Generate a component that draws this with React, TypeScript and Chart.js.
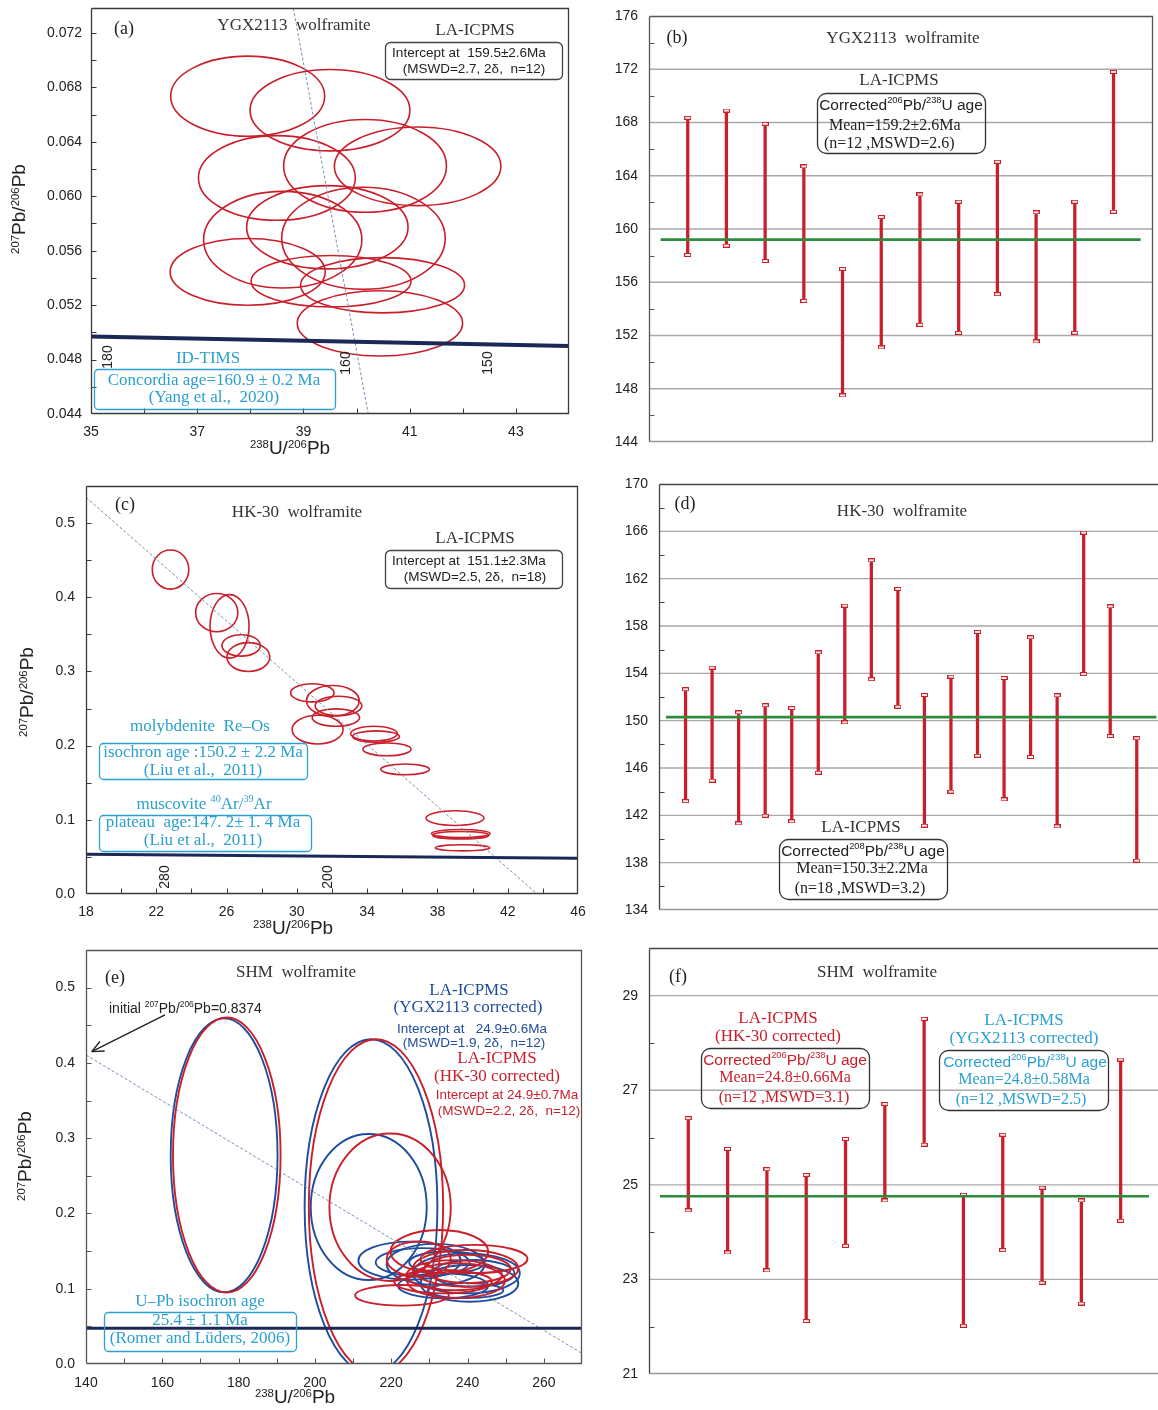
import React, { useEffect, useRef } from 'react';
import { Chart, registerables } from 'chart.js';

Chart.register(...registerables);

const SANS = "'Liberation Sans', Arial, Helvetica, sans-serif";
const SERIF = "'Liberation Serif', 'Times New Roman', Times, serif";
const RED = '#c81f2b';
const BLUE = '#1f4c9c';
const NAVY = '#1b2856';
const CYAN = '#2b9fd0';
const GREEN = '#2e8b3d';
const INK = '#222222';
const TITLE = '#333333';
const FRAME = '#3a3a3a';
const GRID = '#a9a9a9';
const DISC = '#7c8db5';

// ================= DATA =================
// ---- (a) YGX2113 wolframite, Tera-Wasserburg ----
const A_X_TICKS = [35, 37, 39, 41, 43];
const A_X_MARKS = [36, 37, 38, 39, 40, 41, 42, 43];
const A_Y_TICKS = [0.044, 0.048, 0.052, 0.056, 0.06, 0.064, 0.068, 0.072];
const A_Y_MARKS = [0.046, 0.048, 0.05, 0.052, 0.054, 0.056, 0.058, 0.06, 0.062, 0.064, 0.066, 0.068, 0.07, 0.072];
// [238U/206Pb centre, 207Pb/206Pb centre, half-width, half-height]
const A_ELLIPSES = [
  [37.95, 0.06735, 1.45, 0.00294],
  [39.5, 0.06632, 1.505, 0.00299],
  [38.5, 0.06134, 1.477, 0.00311],
  [40.16, 0.06223, 1.533, 0.00341],
  [41.15, 0.0622, 1.568, 0.00289],
  [38.61, 0.05681, 1.49, 0.00355],
  [39.45, 0.05772, 1.52, 0.00306],
  [40.13, 0.05691, 1.54, 0.00375],
  [37.95, 0.05444, 1.46, 0.00245],
  [39.52, 0.05375, 1.505, 0.00189],
  [40.49, 0.05346, 1.544, 0.00203],
  [40.44, 0.05066, 1.557, 0.0024],
];
const A_CONCORDIA = [[35, 0.0497], [44, 0.049]];
const A_DISCORDIA = [[38.81, 0.0738], [40.22, 0.044]];

// ---- (b) YGX2113 corrected 206Pb/238U ages ----
const B_HIGH = [168.35, 168.9, 167.9, 164.7, 157.0, 160.9, 162.6, 162.05, 165.05, 161.25, 162.05, 171.8];
const B_LOW = [158.05, 158.75, 157.6, 154.6, 147.5, 151.1, 152.8, 152.2, 155.1, 151.55, 152.2, 161.3];
const B_MEAN = 159.2;
const B_MEAN_SPAN = [0.3, 12.7];
const B_Y_TICKS = [144, 148, 152, 156, 160, 164, 168, 172, 176];
const B_GRID = [148, 152, 156, 160, 164, 168, 172];
const B_MINOR = [146, 150, 154, 158, 162, 166, 170, 174];

// ---- (c) HK-30 wolframite ----
const C_X_TICKS = [18, 22, 26, 30, 34, 38, 42, 46];
const C_X_MARKS = [20, 22, 24, 26, 28, 30, 32, 34, 36, 38, 40, 42, 44];
const C_Y_TICKS = [0, 0.1, 0.2, 0.3, 0.4, 0.5];
const C_Y_MARKS = [0.05, 0.1, 0.15, 0.2, 0.25, 0.3, 0.35, 0.4, 0.45, 0.5];
const C_ELLIPSES = [
  [22.81, 0.4374, 1.04, 0.0264],
  [25.44, 0.3793, 1.2, 0.0257],
  [26.17, 0.3608, 1.11, 0.0428],
  [26.83, 0.3351, 1.09, 0.0144],
  [27.24, 0.3194, 1.22, 0.0194],
  [30.88, 0.2712, 1.24, 0.0122],
  [32.05, 0.2604, 1.5, 0.0207],
  [32.37, 0.2536, 1.33, 0.013],
  [32.22, 0.2378, 1.35, 0.0117],
  [31.18, 0.2216, 1.45, 0.0194],
  [34.39, 0.2162, 1.33, 0.0099],
  [34.51, 0.2122, 1.33, 0.0077],
  [35.13, 0.195, 1.37, 0.0086],
  [36.16, 0.168, 1.39, 0.0072],
  [39.0, 0.1023, 1.65, 0.0099],
  [39.33, 0.0815, 1.67, 0.0054],
  [39.33, 0.0793, 1.6, 0.005],
  [39.43, 0.0622, 1.55, 0.0041],
];
const C_CONCORDIA = [[18, 0.0536], [46, 0.0482]];
const C_DISCORDIA = [[18, 0.5347], [43.67, 0]];

// ---- (d) HK-30 corrected 208Pb/238U ages ----
const D_HIGH = [152.65, 154.48, 150.7, 151.3, 151.07, 155.77, 159.72, 163.55, 161.13, 152.17, 153.72, 157.5, 153.61, 157.04, 152.14, 165.89, 159.66, 148.51];
const D_LOW = [143.2, 144.93, 141.32, 141.97, 141.49, 145.6, 149.86, 153.5, 151.18, 141.13, 144.0, 147.04, 143.35, 146.93, 141.07, 153.94, 148.7, 138.17];
const D_MEAN = 150.3;
const D_MEAN_SPAN = [0.26, 18.74];
const D_Y_TICKS = [134, 138, 142, 146, 150, 154, 158, 162, 166, 170];
const D_GRID = [138, 142, 146, 150, 154, 158, 162, 166];
const D_MINOR = [136, 140, 144, 148, 152, 156, 160, 164, 168];

// ---- (e) SHM wolframite ----
const E_X_TICKS = [140, 160, 180, 200, 220, 240, 260];
const E_X_MARKS = [150, 160, 170, 180, 190, 200, 210, 220, 230, 240, 250, 260];
const E_Y_TICKS = [0, 0.1, 0.2, 0.3, 0.4, 0.5];
const E_Y_MARKS = [0.05, 0.1, 0.15, 0.2, 0.25, 0.3, 0.35, 0.4, 0.45, 0.5];
const E_BLUE = [
  [176.2, 0.2772, 14.0, 0.182],
  [214.7, 0.2095, 17.4, 0.222],
  [214.1, 0.2086, 15.2, 0.097],
  [224.8, 0.1373, 13.4, 0.0253],
  [231.6, 0.1324, 12.8, 0.0272],
  [239.7, 0.1204, 14.0, 0.0266],
  [240.5, 0.1071, 12.8, 0.0244],
  [233.6, 0.104, 11.8, 0.0166],
  [241.5, 0.1204, 10.8, 0.0177],
  [239.5, 0.0975, 9.9, 0.01],
  [234.6, 0.135, 9.9, 0.0144],
  [228.2, 0.1351, 12.3, 0.0188],
];
const E_RED = [
  [176.9, 0.2776, 14.1, 0.1827],
  [216.0, 0.2095, 17.6, 0.222],
  [219.7, 0.2082, 15.9, 0.098],
  [232.6, 0.1493, 12.8, 0.0288],
  [222.8, 0.0912, 12.3, 0.0137],
  [241.7, 0.1395, 14.0, 0.0188],
  [237.0, 0.1106, 12.8, 0.0233],
  [233.6, 0.1093, 12.8, 0.0155],
  [240.0, 0.1262, 11.3, 0.0188],
  [227.2, 0.1395, 8.4, 0.0233],
  [239.5, 0.127, 13.8, 0.0244],
  [236.5, 0.118, 12.5, 0.02],
];
const E_CONCORDIA = [[140, 0.0475], [270, 0.0474]];
const E_DISCORDIA = [[140, 0.4105], [270, 0.0142]];
const E_ARROW = [[160.7, 0.4637], [141.5, 0.415]];

// ---- (f) SHM corrected 206Pb/238U ages ----
const F_HIGH = [26.41, 25.76, 25.33, 25.21, 25.97, 26.71, 28.51, 24.79, 26.06, 24.94, 24.67, 27.65];
const F_LOW = [24.46, 23.57, 23.19, 22.12, 23.71, 24.67, 25.85, 22.02, 23.62, 22.93, 22.49, 24.24];
const F_MEAN = 24.76;
const F_MEAN_SPAN = [0.28, 12.72];
const F_Y_TICKS = [21, 23, 25, 27, 29];
const F_GRID = [23, 25, 27, 29];
const F_MINOR = [22, 24, 26, 28];

// ================= DRAWING HELPERS =================
function drawRich(ctx, str, x, y, size, fam, color, align, rot, weight, supK) {
  const parts = [];
  const re = /\^\{([^}]*)\}/g;
  let last = 0;
  let m;
  while ((m = re.exec(str))) {
    if (m.index > last) parts.push({ t: str.slice(last, m.index), sup: false, w: 0 });
    parts.push({ t: m[1], sup: true, w: 0 });
    last = re.lastIndex;
  }
  if (last < str.length) parts.push({ t: str.slice(last), sup: false, w: 0 });
  const supSize = size * 0.6;
  const wt = weight || 'normal';
  let total = 0;
  for (const p of parts) {
    ctx.font = `${wt} ${p.sup ? supSize : size}px ${fam}`;
    p.w = ctx.measureText(p.t).width;
    total += p.w;
  }
  ctx.save();
  ctx.translate(x, y);
  if (rot) ctx.rotate((rot * Math.PI) / 180);
  let cx = align === 'left' ? 0 : align === 'right' ? -total : -total / 2;
  ctx.fillStyle = color;
  ctx.textAlign = 'left';
  ctx.textBaseline = 'middle';
  for (const p of parts) {
    ctx.font = `${wt} ${p.sup ? supSize : size}px ${fam}`;
    ctx.fillText(p.t, cx, p.sup ? -size * supK : 0);
    cx += p.w;
  }
  ctx.restore();
}

function makeDecor(d) {
  return {
    id: 'decor',
    beforeDatasetsDraw(chart) {
      const { ctx, chartArea: ca } = chart;
      const xs = chart.scales.x;
      const ys = chart.scales.y;
      if (d.hgrid) {
        ctx.save();
        ctx.strokeStyle = GRID;
        ctx.lineWidth = 1.3;
        for (const v of d.hgrid) {
          const py = ys.getPixelForValue(v);
          ctx.beginPath();
          ctx.moveTo(ca.left, py);
          ctx.lineTo(ca.right, py);
          ctx.stroke();
        }
        ctx.restore();
      }
      if (d.ellipses) {
        ctx.save();
        ctx.beginPath();
        ctx.rect(ca.left, ca.top, ca.right - ca.left, ca.bottom - ca.top);
        ctx.clip();
        for (const g of d.ellipses) {
          ctx.strokeStyle = g.color;
          ctx.lineWidth = g.width;
          for (const [cx, cy, rx, ry] of g.data) {
            const px = xs.getPixelForValue(cx);
            const py = ys.getPixelForValue(cy);
            const prx = Math.abs(xs.getPixelForValue(cx + rx) - px);
            const pry = Math.abs(ys.getPixelForValue(cy + ry) - py);
            ctx.beginPath();
            ctx.ellipse(px, py, prx, pry, 0, 0, Math.PI * 2);
            ctx.stroke();
          }
        }
        ctx.restore();
      }
    },
    afterDatasetsDraw(chart) {
      const { ctx, chartArea: ca } = chart;
      const xs = chart.scales.x;
      const ys = chart.scales.y;
      const f = d.frame;
      ctx.save();
      ctx.lineWidth = f.width || 1.3;
      const L = Math.round(ca.left) + 0.5;
      const T = Math.round(ca.top) + 0.5;
      const R = Math.round(ca.right) - 0.5;
      const B = Math.round(ca.bottom) - 0.5;
      const seg = (x1, y1, x2, y2, col) => {
        ctx.strokeStyle = col;
        ctx.beginPath();
        ctx.moveTo(x1, y1);
        ctx.lineTo(x2, y2);
        ctx.stroke();
      };
      if (f.top) seg(L, T, ca.right, T, f.color);
      if (f.bottom) seg(L, B, ca.right, B, f.bottomColor || f.color);
      if (f.right) seg(R, T, R, B, f.color);
      if (f.left) seg(L, T, L, B, f.color);
      // inward tick marks
      const len = d.markLen || 5;
      ctx.lineWidth = 1;
      if (d.xMarks) {
        for (const v of d.xMarks) {
          const px = Math.round(xs.getPixelForValue(v)) + 0.5;
          seg(px, B, px, B - len, f.color);
        }
      }
      if (d.yMarks) {
        for (const v of d.yMarks) {
          const py = Math.round(ys.getPixelForValue(v)) + 0.5;
          seg(L, py, L + len, py, f.color);
        }
      }
      // arrows (data coordinates)
      if (d.arrows) {
        for (const a of d.arrows) {
          const x1 = xs.getPixelForValue(a.pts[0][0]);
          const y1 = ys.getPixelForValue(a.pts[0][1]);
          const x2 = xs.getPixelForValue(a.pts[1][0]);
          const y2 = ys.getPixelForValue(a.pts[1][1]);
          ctx.lineWidth = 1.4;
          seg(x1, y1, x2, y2, a.color);
          const ang = Math.atan2(y1 - y2, x1 - x2);
          const hl = 13;
          for (const s of [-0.42, 0.42]) {
            seg(x2, y2, x2 + hl * Math.cos(ang + s), y2 + hl * Math.sin(ang + s), a.color);
          }
        }
      }
      // boxes (page coordinates)
      for (const b of d.boxes || []) {
        ctx.strokeStyle = b.color;
        ctx.lineWidth = 1.3;
        ctx.beginPath();
        ctx.roundRect(b.x1 - d.ox + 0.5, b.y1 - d.oy + 0.5, b.x2 - b.x1, b.y2 - b.y1, b.r);
        ctx.stroke();
      }
      ctx.restore();
      for (const t of d.texts || []) {
        drawRich(ctx, t.t, t.x - d.ox, t.y - d.oy, t.size, t.fam, t.color || INK, t.align || 'center', t.rot || 0, t.weight, t.supK || 0.33);
      }
    },
  };
}

function makeCap() {
  const c = document.createElement('canvas');
  c.width = 7;
  c.height = 4;
  const g = c.getContext('2d');
  g.fillStyle = '#fbeaea';
  g.fillRect(0, 0, 7, 4);
  g.strokeStyle = RED;
  g.lineWidth = 1;
  g.strokeRect(0.5, 0.5, 6, 3);
  return c;
}

const pts = (arr) => arr.map(([x, y]) => ({ x, y }));
const tickFont = { family: SANS, size: 14 };

function fixedTicks(values) {
  return (s) => {
    s.ticks = values.map((v) => ({ value: v }));
  };
}

// grid hidden, tick marks invisible; tickLength only used as the label gap
const gapGrid = (gap) => ({ display: false, drawTicks: true, tickLength: gap, tickColor: 'rgba(0,0,0,0)' });

function concordiaConfig(o) {
  return {
    type: 'scatter',
    data: {
      datasets: [
        { data: pts(o.concordia), showLine: true, borderColor: NAVY, borderWidth: o.concW, pointRadius: 0 },
        { data: pts(o.discordia), showLine: true, borderColor: DISC, borderWidth: 1, borderDash: [3, 2], pointRadius: 0 },
      ],
    },
    options: {
      animation: false,
      responsive: false,
      events: [],
      layout: { autoPadding: false, padding: o.padding },
      plugins: { legend: { display: false }, tooltip: { enabled: false } },
      scales: {
        x: {
          type: 'linear', min: o.xMin, max: o.xMax,
          grid: gapGrid(o.xPad), border: { display: false },
          afterBuildTicks: fixedTicks(o.xTicks),
          afterFit: (s) => { s.height = o.xAxisH; },
          ticks: { padding: 0, color: INK, font: tickFont, maxRotation: 0, autoSkip: false, callback: (v) => String(v) },
        },
        y: {
          type: 'linear', min: o.yMin, max: o.yMax,
          grid: gapGrid(o.yPad), border: { display: false },
          afterBuildTicks: fixedTicks(o.yTicks),
          afterFit: (s) => { s.width = o.yAxisW; },
          ticks: { padding: 0, color: INK, font: tickFont, autoSkip: false, callback: (v) => Number(v).toFixed(o.yDec) },
        },
      },
    },
    plugins: [makeDecor(o.decor)],
  };
}

function errorConfig(o) {
  const cap = makeCap();
  const capPts = [
    ...o.low.map((v, i) => ({ x: i + 1, y: v })),
    ...o.high.map((v, i) => ({ x: i + 1, y: v })),
  ];
  return {
    type: 'bar',
    data: {
      datasets: [
        { type: 'line', data: o.span.map((x) => ({ x, y: o.mean })), borderColor: GREEN, borderWidth: 2.6, pointRadius: 0, order: 0 },
        { type: 'line', data: capPts, showLine: false, pointStyle: cap, pointRadius: 3, order: 1 },
        { type: 'bar', data: o.low.map((v, i) => ({ x: i + 1, y: [v, o.high[i]] })), backgroundColor: RED, barThickness: 2.6, order: 2 },
      ],
    },
    options: {
      animation: false,
      responsive: false,
      events: [],
      layout: { autoPadding: false, padding: o.padding },
      plugins: { legend: { display: false }, tooltip: { enabled: false } },
      scales: {
        x: { type: 'linear', display: false, min: 0, max: o.xMax, offset: false, grid: { display: false } },
        y: {
          type: 'linear', min: o.yMin, max: o.yMax,
          grid: gapGrid(11), border: { display: false },
          afterBuildTicks: fixedTicks(o.yTicks),
          afterFit: (s) => { s.width = o.yAxisW; },
          ticks: { padding: 0, color: INK, font: tickFont, autoSkip: false, callback: (v) => String(v) },
        },
      },
    },
    plugins: [makeDecor(o.decor)],
  };
}

const yTitle = (x, y) => ({ t: '^{207}Pb/^{206}Pb', x, y, size: 19, fam: SANS, color: INK, rot: -90, supK: 0.2 });
const xTitle = (x, y) => ({ t: '^{238}U/^{206}Pb', x, y, size: 19, fam: SANS, color: INK, supK: 0.2 });
const BOXFRAME = { left: true, top: true, right: true, bottom: true, color: FRAME };

// ================= PANELS =================
const PANELS = [
  {
    left: 0, top: 0, width: 580, height: 460,
    make: () => concordiaConfig({
      concordia: A_CONCORDIA, discordia: A_DISCORDIA, concW: 4,
      xMin: 35, xMax: 44, yMin: 0.044, yMax: 0.0738, xTicks: A_X_TICKS, yTicks: A_Y_TICKS, yDec: 3,
      padding: { left: 0, top: 8, right: 11, bottom: 0 }, xAxisH: 46, yAxisW: 91, xPad: 10, yPad: 9,
      decor: {
        ox: 0, oy: 0, frame: BOXFRAME, xMarks: A_X_MARKS, yMarks: A_Y_MARKS,
        ellipses: [{ data: A_ELLIPSES, color: RED, width: 1.6 }],
        boxes: [
          { x1: 385, y1: 42, x2: 562, y2: 79, color: '#444', r: 5 },
          { x1: 94, y1: 369, x2: 335, y2: 409, color: CYAN, r: 4 },
        ],
        texts: [
          { t: '(a)', x: 124, y: 29, size: 18, fam: SERIF },
          { t: 'YGX2113  wolframite', x: 294, y: 26, size: 17, fam: SERIF, color: TITLE },
          { t: 'LA-ICPMS', x: 475, y: 31, size: 17, fam: SERIF, color: TITLE },
          { t: 'Intercept at  159.5±2.6Ma', x: 469, y: 53, size: 13.5, fam: SANS },
          { t: '(MSWD=2.7, 2δ,  n=12)', x: 474, y: 69, size: 13.5, fam: SANS },
          { t: 'ID-TIMS', x: 208, y: 359, size: 17, fam: SERIF, color: CYAN },
          { t: 'Concordia age=160.9 ± 0.2 Ma', x: 214, y: 381, size: 17, fam: SERIF, color: CYAN },
          { t: '(Yang et al.,  2020)', x: 214, y: 398, size: 17, fam: SERIF, color: CYAN },
          { t: '180', x: 108, y: 357, size: 14, fam: SANS, rot: -90 },
          { t: '160', x: 346, y: 363, size: 14, fam: SANS, rot: -90 },
          { t: '150', x: 488, y: 363, size: 14, fam: SANS, rot: -90 },
          yTitle(20, 209),
          xTitle(290, 449),
        ],
      },
    }),
  },
  {
    left: 580, top: 0, width: 578, height: 460,
    make: () => errorConfig({
      low: B_LOW, high: B_HIGH, mean: B_MEAN, span: B_MEAN_SPAN, xMax: 13.02,
      yMin: 144, yMax: 176, yTicks: B_Y_TICKS, yAxisW: 69,
      padding: { left: 0, top: 16, right: 5, bottom: 18 },
      decor: {
        ox: 580, oy: 0, frame: { left: true, top: true, right: true, bottom: true, color: '#555', bottomColor: '#999' },
        yMarks: B_MINOR, hgrid: B_GRID,
        boxes: [{ x1: 817, y1: 93, x2: 985, y2: 153, color: '#333', r: 9 }],
        texts: [
          { t: '(b)', x: 677, y: 38, size: 18, fam: SERIF },
          { t: 'YGX2113  wolframite', x: 903, y: 39, size: 17, fam: SERIF, color: TITLE },
          { t: 'LA-ICPMS', x: 899, y: 81, size: 17, fam: SERIF, color: TITLE },
          { t: 'Corrected^{206}Pb/^{238}U age', x: 901, y: 106, size: 15.5, fam: SANS },
          { t: 'Mean=159.2±2.6Ma', x: 829, y: 126, size: 16, fam: SERIF, align: 'left' },
          { t: '(n=12 ,MSWD=2.6)', x: 824, y: 144, size: 16, fam: SERIF, align: 'left' },
        ],
      },
    }),
  },
  {
    left: 0, top: 470, width: 590, height: 470,
    make: () => concordiaConfig({
      concordia: C_CONCORDIA, discordia: C_DISCORDIA, concW: 3,
      xMin: 18, xMax: 46, yMin: 0, yMax: 0.55, xTicks: C_X_TICKS, yTicks: C_Y_TICKS, yDec: 1,
      padding: { left: 0, top: 16, right: 12, bottom: 0 }, xAxisH: 46, yAxisW: 86, xPad: 10, yPad: 11,
      decor: {
        ox: 0, oy: 470, frame: BOXFRAME, xMarks: C_X_MARKS, yMarks: C_Y_MARKS,
        ellipses: [{ data: C_ELLIPSES, color: RED, width: 1.6 }],
        boxes: [
          { x1: 385, y1: 550, x2: 562, y2: 588, color: '#444', r: 5 },
          { x1: 99, y1: 743, x2: 307, y2: 779, color: CYAN, r: 4 },
          { x1: 99, y1: 815, x2: 311, y2: 851, color: CYAN, r: 4 },
        ],
        texts: [
          { t: '(c)', x: 125, y: 505, size: 18, fam: SERIF },
          { t: 'HK-30  wolframite', x: 297, y: 513, size: 17, fam: SERIF, color: TITLE },
          { t: 'LA-ICPMS', x: 475, y: 539, size: 17, fam: SERIF, color: TITLE },
          { t: 'Intercept at  151.1±2.3Ma', x: 469, y: 561, size: 13.5, fam: SANS },
          { t: '(MSWD=2.5, 2δ,  n=18)', x: 475, y: 577, size: 13.5, fam: SANS },
          { t: 'molybdenite  Re–Os', x: 200, y: 727, size: 17, fam: SERIF, color: CYAN },
          { t: 'isochron age :150.2 ± 2.2 Ma', x: 203, y: 753, size: 17, fam: SERIF, color: CYAN },
          { t: '(Liu et al.,  2011)', x: 203, y: 771, size: 17, fam: SERIF, color: CYAN },
          { t: 'muscovite ^{40}Ar/^{39}Ar', x: 204, y: 805, size: 17, fam: SERIF, color: CYAN },
          { t: 'plateau  age:147. 2± 1. 4 Ma', x: 203, y: 823, size: 17, fam: SERIF, color: CYAN },
          { t: '(Liu et al.,  2011)', x: 203, y: 841, size: 17, fam: SERIF, color: CYAN },
          { t: '280', x: 165, y: 877, size: 14, fam: SANS, rot: -90 },
          { t: '200', x: 328, y: 877, size: 14, fam: SANS, rot: -90 },
          yTitle(28, 692),
          xTitle(293, 929),
        ],
      },
    }),
  },
  {
    left: 580, top: 470, width: 578, height: 470,
    make: () => errorConfig({
      low: D_LOW, high: D_HIGH, mean: D_MEAN, span: D_MEAN_SPAN, xMax: 18.8,
      yMin: 134, yMax: 170, yTicks: D_Y_TICKS, yAxisW: 79,
      padding: { left: 0, top: 14, right: 0, bottom: 30 },
      decor: {
        ox: 580, oy: 470, frame: { left: true, top: true, right: false, bottom: true, color: '#444', bottomColor: '#999' },
        yMarks: D_MINOR, hgrid: D_GRID,
        boxes: [{ x1: 779, y1: 839, x2: 947, y2: 899, color: '#333', r: 9 }],
        texts: [
          { t: '(d)', x: 685, y: 504, size: 18, fam: SERIF },
          { t: 'HK-30  wolframite', x: 902, y: 512, size: 17, fam: SERIF, color: TITLE },
          { t: 'LA-ICPMS', x: 861, y: 828, size: 17, fam: SERIF, color: TITLE },
          { t: 'Corrected^{208}Pb/^{238}U age', x: 863, y: 852, size: 15.5, fam: SANS },
          { t: 'Mean=150.3±2.2Ma', x: 862, y: 869, size: 16, fam: SERIF },
          { t: '(n=18 ,MSWD=3.2)', x: 860, y: 889, size: 16, fam: SERIF },
        ],
      },
    }),
  },
  {
    left: 0, top: 940, width: 590, height: 470,
    make: () => concordiaConfig({
      concordia: E_CONCORDIA, discordia: E_DISCORDIA, concW: 3,
      xMin: 140, xMax: 270, yMin: 0, yMax: 0.55, xTicks: E_X_TICKS, yTicks: E_Y_TICKS, yDec: 1,
      padding: { left: 0, top: 10, right: 8, bottom: 0 }, xAxisH: 46, yAxisW: 86, xPad: 11, yPad: 11,
      decor: {
        ox: 0, oy: 940, frame: { ...BOXFRAME, color: '#555' }, xMarks: E_X_MARKS, yMarks: E_Y_MARKS,
        ellipses: [
          { data: E_BLUE, color: BLUE, width: 1.9 },
          { data: E_RED, color: RED, width: 1.9 },
        ],
        arrows: [{ pts: E_ARROW, color: INK }],
        boxes: [{ x1: 104, y1: 1312, x2: 296, y2: 1351, color: CYAN, r: 4 }],
        texts: [
          { t: '(e)', x: 115, y: 978, size: 18, fam: SERIF },
          { t: 'SHM  wolframite', x: 296, y: 973, size: 17, fam: SERIF, color: TITLE },
          { t: 'initial ^{207}Pb/^{206}Pb=0.8374', x: 109, y: 1009, size: 14, fam: SANS, align: 'left' },
          { t: 'LA-ICPMS', x: 469, y: 991, size: 17, fam: SERIF, color: BLUE },
          { t: '(YGX2113 corrected)', x: 468, y: 1008, size: 17, fam: SERIF, color: BLUE },
          { t: 'Intercept at   24.9±0.6Ma', x: 472, y: 1029, size: 13.5, fam: SANS, color: BLUE },
          { t: '(MSWD=1.9, 2δ,  n=12)', x: 474, y: 1043, size: 13.5, fam: SANS, color: BLUE },
          { t: 'LA-ICPMS', x: 497, y: 1059, size: 17, fam: SERIF, color: RED },
          { t: '(HK-30 corrected)', x: 497, y: 1077, size: 17, fam: SERIF, color: RED },
          { t: 'Intercept at 24.9±0.7Ma', x: 507, y: 1095, size: 13.5, fam: SANS, color: RED },
          { t: '(MSWD=2.2, 2δ,  n=12)', x: 509, y: 1111, size: 13.5, fam: SANS, color: RED },
          { t: 'U–Pb isochron age', x: 200, y: 1302, size: 17, fam: SERIF, color: CYAN },
          { t: '25.4 ± 1.1 Ma', x: 200, y: 1321, size: 17, fam: SERIF, color: CYAN },
          { t: '(Romer and Lüders, 2006)', x: 200, y: 1339, size: 17, fam: SERIF, color: CYAN },
          yTitle(26, 1156),
          xTitle(295, 1398),
        ],
      },
    }),
  },
  {
    left: 580, top: 940, width: 578, height: 470,
    make: () => errorConfig({
      low: F_LOW, high: F_HIGH, mean: F_MEAN, span: F_MEAN_SPAN, xMax: 12.95,
      yMin: 21, yMax: 30, yTicks: F_Y_TICKS, yAxisW: 69,
      padding: { left: 0, top: 7, right: 0, bottom: 36 },
      decor: {
        ox: 580, oy: 940, frame: { left: true, top: true, right: false, bottom: true, color: '#444', bottomColor: '#999' },
        yMarks: F_MINOR, hgrid: F_GRID,
        boxes: [
          { x1: 701, y1: 1048, x2: 869, y2: 1108, color: '#333', r: 9 },
          { x1: 939, y1: 1050, x2: 1108, y2: 1110, color: '#333', r: 9 },
        ],
        texts: [
          { t: '(f)', x: 678, y: 977, size: 18, fam: SERIF },
          { t: 'SHM  wolframite', x: 877, y: 973, size: 17, fam: SERIF, color: TITLE },
          { t: 'LA-ICPMS', x: 778, y: 1019, size: 17, fam: SERIF, color: RED },
          { t: '(HK-30 corrected)', x: 778, y: 1037, size: 17, fam: SERIF, color: RED },
          { t: 'Corrected^{206}Pb/^{238}U age', x: 785, y: 1061, size: 15.5, fam: SANS, color: RED },
          { t: 'Mean=24.8±0.66Ma', x: 785, y: 1078, size: 16, fam: SERIF, color: RED },
          { t: '(n=12 ,MSWD=3.1)', x: 784, y: 1098, size: 16, fam: SERIF, color: RED },
          { t: 'LA-ICPMS', x: 1024, y: 1021, size: 17, fam: SERIF, color: CYAN },
          { t: '(YGX2113 corrected)', x: 1024, y: 1039, size: 17, fam: SERIF, color: CYAN },
          { t: 'Corrected^{206}Pb/^{238}U age', x: 1025, y: 1063, size: 15.5, fam: SANS, color: CYAN },
          { t: 'Mean=24.8±0.58Ma', x: 1024, y: 1080, size: 16, fam: SERIF, color: CYAN },
          { t: '(n=12 ,MSWD=2.5)', x: 1021, y: 1100, size: 16, fam: SERIF, color: CYAN },
        ],
      },
    }),
  },
];

function ChartPanel({ left, top, width, height, make }) {
  const ref = useRef(null);
  useEffect(() => {
    const chart = new Chart(ref.current, make());
    return () => chart.destroy();
  }, []);
  return (
    <canvas
      ref={ref}
      width={width}
      height={height}
      style={{ position: 'absolute', left, top, width, height, display: 'block' }}
    />
  );
}

export default function App() {
  return (
    <div style={{ position: 'absolute', left: 0, top: 0, width: 1158, height: 1410, overflow: 'hidden', background: '#ffffff' }}>
      {PANELS.map((p, i) => (
        <ChartPanel key={i} left={p.left} top={p.top} width={p.width} height={p.height} make={p.make} />
      ))}
    </div>
  );
}
